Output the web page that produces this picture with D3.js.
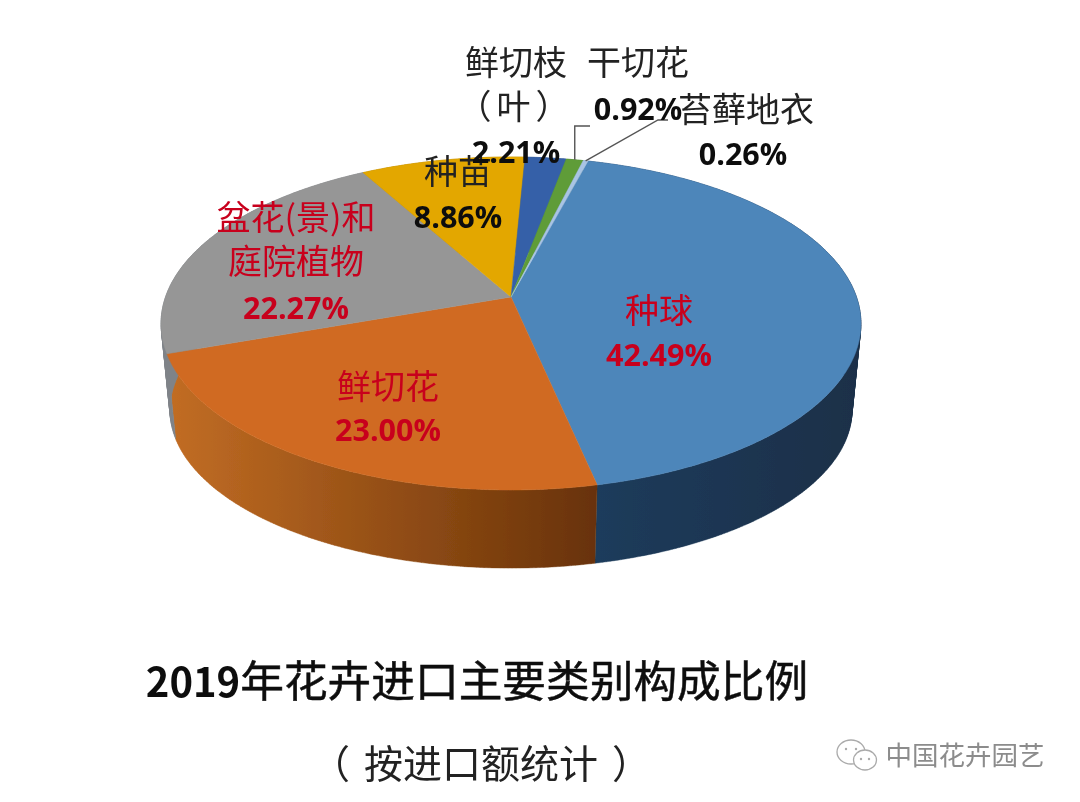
<!DOCTYPE html>
<html>
<head>
<meta charset="utf-8">
<script src="https://cdnjs.cloudflare.com/ajax/libs/d3/7.8.5/d3.min.js"></script>
<style>
  html, body { margin: 0; background: #fff; }
  svg { display: block; }
  text { font-family: "Noto Sans CJK SC", sans-serif; text-anchor: middle; }
  .pct { font-family: "Open Sans", sans-serif; font-weight: 700; font-size: 30.5px; }
  .name { font-size: 34px; font-weight: 400; }
</style>
</head>
<body>
<div id="chart"></div>
<script>
var categories = ["种球", "鲜切花", "盆花(景)和庭院植物", "种苗", "鲜切枝（叶）", "干切花", "苔藓地衣"];
var shares = [42.49, 23.00, 22.27, 8.86, 2.21, 0.92, 0.26];
var shareLabels = ["42.49%", "23.00%", "22.27%", "8.86%", "2.21%", "0.92%", "0.26%"];
var sliceColors = ["#4e86ba", "#d06b22", "#969696", "#e3a700", "#3561a8", "#5f9c38", "#a9c4e4"];
var wallFrom = ["#1c3c5c", "#c26d24", "#7f8388", "#a87c00", "#27487c", "#46732a", "#7d91a9"];
var wallTo = ["#1a2f48", "#683208", "#7f8388", "#a87c00", "#27487c", "#46732a", "#7d91a9"];
var titleYear = "2019";
var titleText = "年花卉进口主要类别构成比例";
var subtitleParts = ["（", "按进口额统计", "）"];
var watermarkText = "中国花卉园艺";

var width = 1080, height = 802;
var red = "#c8001e", black = "#111";

// name lines and percent placed by hand, same as the callouts in the original
var labelLayout = [
  {lines: ["种球"], x: 659, y: 323, pctY: 366, color: red},
  {lines: ["鲜切花"], x: 388, y: 399, pctY: 441, color: red},
  {lines: ["盆花(景)和", "庭院植物"], x: 296, y: 230, pctY: 319, color: red},
  {lines: ["种苗"], x: 458, y: 184, pctY: 228, color: "#222"},
  {lines: ["鲜切枝", "（叶）"], x: 516, y: 75, pctY: 163, color: "#222"},
  {lines: ["干切花"], x: 638, y: 75, pctX: 638, pctY: 120, color: "#222"},
  {lines: ["苔藓地衣"], x: 746, y: 122, pctX: 743, pctY: 165, color: "#222"}
];

// Tilted disc: unit circle pushed through a perspective so the apex sits above the ellipse middle
var cx = 511, apexY = 297, floorApexY = 385;
var persp = -0.159;
var scaleX = d3.scaleLinear().domain([-1, 1]).range([cx - 345.5, cx + 345.5]);
var scaleY = d3.scaleLinear().domain([-1, 1]).range([apexY - 162.3, apexY + 162.3]);
var floorX = d3.scaleLinear().domain([-1, 1]).range([cx - 336.7, cx + 336.7]);
var floorY = d3.scaleLinear().domain([-1, 1]).range([floorApexY - 154, floorApexY + 154]);

function project(a, sx, sy) {
  var X = Math.sin(a), Y = -Math.cos(a), w = 1 + persp * Y;
  return [sx(X / w), sy(Y / w)];
}
function rimPoint(a) { return project(a, scaleX, scaleY); }
function floorPoint(a) { return project(a, floorX, floorY); }

function samples(a0, a1) {
  var n = Math.max(2, Math.ceil((a1 - a0) / 0.01));
  return d3.range(n + 1).map(function(i) { return a0 + (a1 - a0) * i / n; });
}

var pie = d3.pie().sort(null)
    .startAngle(14.9 * Math.PI / 180)
    .endAngle(374.9 * Math.PI / 180);
var slices = pie(shares);
var line = d3.line();

var svg = d3.select("#chart").append("svg")
    .attr("width", width)
    .attr("height", height);

var defs = svg.append("defs");
defs.append("filter").attr("id", "soft")
    .attr("x", "-5%").attr("y", "-5%").attr("width", "110%").attr("height", "110%")
  .append("feGaussianBlur").attr("stdDeviation", 0.55);

slices.forEach(function(d, i) {
  var xs = samples(d.startAngle, d.endAngle).map(function(a) { return rimPoint(a)[0]; });
  var g = defs.append("linearGradient").attr("id", "wall" + i)
      .attr("gradientUnits", "userSpaceOnUse")
      .attr("x1", d3.min(xs)).attr("x2", d3.max(xs)).attr("y1", 0).attr("y2", 0);
  g.append("stop").attr("offset", 0).attr("stop-color", wallFrom[i]);
  g.append("stop").attr("offset", 1).attr("stop-color", wallTo[i]);
});

var pieG = svg.append("g").attr("filter", "url(#soft)");

// wall is a strip of small quads, rim and floor curves cross so one outline would pinch
function wallQuad(p) {
  var q = [rimPoint(p[0]), rimPoint(p[1]), floorPoint(p[1]), floorPoint(p[0])];
  // same winding for all, otherwise overlaps cancel under nonzero fill
  if (d3.polygonArea(q) < 0) q.reverse();
  return line(q) + "Z";
}

pieG.selectAll(".wall")
    .data(slices)
  .enter().append("path")
    .attr("class", "wall")
    .attr("fill", function(d, i) { return "url(#wall" + i + ")"; })
    .attr("stroke", function(d, i) { return "url(#wall" + i + ")"; })
    .attr("stroke-width", 0.4)
    .attr("d", function(d) {
      return d3.pairs(samples(d.startAngle, d.endAngle)).map(wallQuad).join("");
    });

pieG.selectAll(".slice")
    .data(slices)
  .enter().append("path")
    .attr("class", "slice")
    .attr("fill", function(d, i) { return sliceColors[i]; })
    .attr("stroke", function(d, i) { return sliceColors[i]; })
    .attr("stroke-width", 0.5)
    .attr("d", function(d) {
      return line([[cx, apexY]].concat(samples(d.startAngle, d.endAngle).map(rimPoint))) + "Z";
    });

// leader lines for the two thin slices
function midRim(i) { return rimPoint((slices[i].startAngle + slices[i].endAngle) / 2); }
var leaders = svg.append("g").attr("fill", "none").attr("stroke", "#555").attr("stroke-width", 1.4)
    .attr("filter", "url(#soft)");
var p5 = midRim(5), p6 = midRim(6);
leaders.append("path").attr("d", line([[p5[0], p5[1]], [p5[0], 126], [590, 126]]));
leaders.append("path").attr("d", line([[p6[0], p6[1]], [658, 120], [668, 120]]));

var labels = svg.append("g").attr("filter", "url(#soft)");
labelLayout.forEach(function(l, i) {
  l.lines.forEach(function(s, j) {
    labels.append("text").attr("class", "name")
        .attr("x", l.x).attr("y", l.y + j * 44)
        .attr("fill", l.color)
        .attr("letter-spacing", s.charAt(0) === "（" ? 5 : null)
        .text(s);
  });
  labels.append("text").attr("class", "pct")
      .attr("x", l.pctX || l.x).attr("y", l.pctY)
      .attr("fill", l.color === red ? red : black)
      .text(shareLabels[i]);
});

var title = labels.append("text")
    .attr("x", 477).attr("y", 697)
    .attr("fill", "#111");
title.append("tspan")
    .attr("font-size", 40).attr("font-weight", 700)
    .text(titleYear);
title.append("tspan")
    .attr("font-size", 43.7).attr("stroke", "#111").attr("stroke-width", 0.5)
    .text(titleText);

// brackets sit further out than the font sets them
var subtitle = labels.append("text")
    .attr("x", 481).attr("y", 778)
    .attr("font-size", 39).attr("fill", "#222");
subtitleParts.forEach(function(s, i) {
  subtitle.append("tspan").attr("dx", i ? 14 : 0).text(s);
});

// watermark: chat bubbles and account name
var wm = svg.append("g").attr("filter", "url(#soft)");
wm.append("text")
    .attr("x", 965).attr("y", 765)
    .attr("font-size", 26.5).attr("fill", "#8c8c8c")
    .text(watermarkText);
[[851, 752, 14, 12], [865, 760, 11.5, 10]].forEach(function(b) {
  wm.append("ellipse")
      .attr("cx", b[0]).attr("cy", b[1]).attr("rx", b[2]).attr("ry", b[3])
      .attr("fill", "#fff").attr("stroke", "#aaa").attr("stroke-width", 1.3);
});
[[846, 749], [856, 749], [861, 759], [869, 759]].forEach(function(p) {
  wm.append("circle").attr("cx", p[0]).attr("cy", p[1]).attr("r", 1.2).attr("fill", "#aaa");
});
</script>
</body>
</html>
